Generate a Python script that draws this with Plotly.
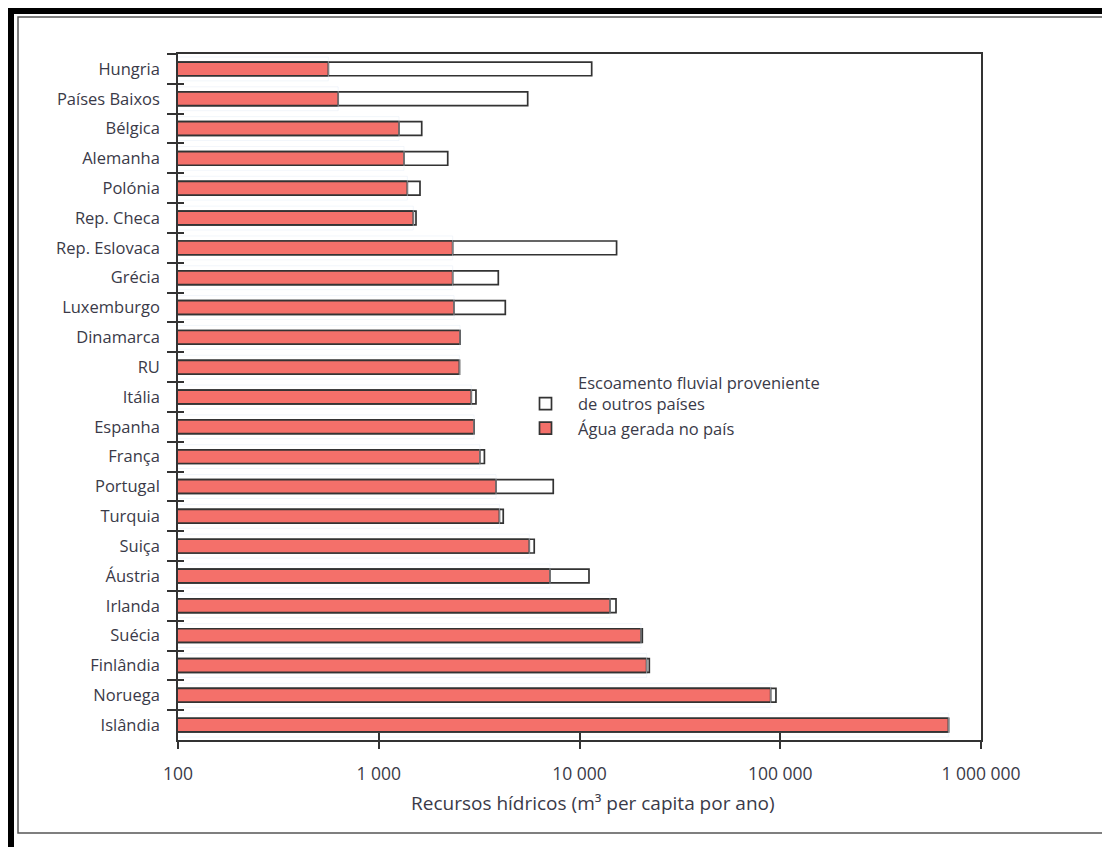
import plotly.graph_objects as go

# ---- data ----
paises = ["Hungria", "Países Baixos", "Bélgica", "Alemanha", "Polónia", "Rep. Checa",
          "Rep. Eslovaca", "Grécia", "Luxemburgo", "Dinamarca", "RU", "Itália",
          "Espanha", "França", "Portugal", "Turquia", "Suiça", "Áustria", "Irlanda",
          "Suécia", "Finlândia", "Noruega", "Islândia"]
# water generated in the country (red part), m3 per capita per year
agua_gerada = [561, 628, 1262, 1336, 1388, 1486,
               2335, 2335, 2370, 2540, 2520, 2890,
               2980, 3190, 3840, 3990, 5620, 7130, 14190,
               20250, 21600, 89600, 688000]
# total resources incl. river flow from other countries (end of white part)
recursos_totais = [11500, 5520, 1637, 2206, 1605, 1533,
                   15300, 3940, 4270, 2540, 2520, 3050,
                   2980, 3360, 7400, 4170, 5950, 11150, 15200,
                   20550, 22270, 95200, 688000]

tick_vals = [100, 1000, 10000, 100000, 1000000]
tick_text = ["100", "1 000", "10 000", "100 000", "1 000 000"]

nome_externo = "Escoamento fluvial proveniente<br>de outros países"
nome_interno = "Água gerada no país"
titulo_x = "Recursos hídricos (m³ per capita por ano)"

# ---- styling ----
RED = "#F4706A"
EDGE = "#333333"
TXT = "#3a3a48"
FONT = "Open Sans"

OFF = 8  # page body margin offset
W, H = 1110 - OFF, 847 - OFF
L, R, T, B = 178 - OFF, 981 - OFF, 54 - OFF, 740 - OFF


def px(xp):
    return (xp - OFF - L) / (R - L)


def py(yp):
    return (B - (yp - OFF)) / (B - T)


fig = go.Figure()
fig.add_trace(go.Bar(
    y=paises, x=recursos_totais, orientation="h", name=nome_externo,
    marker=dict(color="white", line=dict(color=EDGE, width=1.7)),
    width=0.46, hoverinfo="x+y"))
fig.add_trace(go.Bar(
    y=paises, x=agua_gerada, orientation="h", name=nome_interno,
    marker=dict(color=RED, line=dict(color=EDGE, width=1.7)),
    width=0.46, hoverinfo="x+y"))
# invisible trace to carry the overlay axes (for crossing ticks)
fig.add_trace(go.Bar(
    y=paises, x=agua_gerada, orientation="h", xaxis="x2", yaxis="y2",
    marker=dict(color="rgba(0,0,0,0)"), showlegend=False, hoverinfo="skip"))

axis_common = dict(showgrid=False, zeroline=False)

fig.update_layout(
    width=W, height=H,
    margin=dict(l=L, r=W - R, t=T, b=H - B),
    paper_bgcolor="white", plot_bgcolor="white",
    barmode="overlay",
    font=dict(family=FONT, color=TXT, size=16),
    xaxis=dict(type="log", range=[2, 6], tickvals=tick_vals, ticktext=tick_text,
               ticks="outside", ticklen=7, tickwidth=1.5, tickcolor=EDGE,
               showline=True, linecolor=EDGE, linewidth=1.6, mirror=True,
               tickfont=dict(size=17.5, family=FONT, color=TXT),
               ticklabelstandoff=10, **axis_common),
    xaxis2=dict(type="log", range=[2, 6], tickvals=tick_vals, overlaying="x",
                anchor="y2", side="bottom", ticks="inside", ticklen=7,
                tickwidth=1.5, tickcolor=EDGE, showticklabels=False,
                showline=False, **axis_common),
    yaxis=dict(type="category", categoryorder="array", categoryarray=paises,
               autorange="reversed", tickson="boundaries", ticks="outside",
               ticklen=9, tickwidth=1.5, tickcolor=EDGE,
               showline=True, linecolor=EDGE, linewidth=1.6, mirror=True,
               tickfont=dict(size=16.5, family=FONT, color=TXT),
               ticklabelstandoff=13, **axis_common),
    yaxis2=dict(type="category", categoryorder="array", categoryarray=paises,
                autorange="reversed", overlaying="y", anchor="x2", side="left",
                tickson="boundaries", ticks="inside", ticklen=6, tickwidth=1.5,
                tickcolor=EDGE, showticklabels=False, showline=False,
                **axis_common),
    legend=dict(x=px(513), y=py(365), xanchor="left", yanchor="top",
                bgcolor="rgba(0,0,0,0)", traceorder="normal", itemwidth=55,
                font=dict(size=16.5, family=FONT, color=TXT), valign="bottom"),
    showlegend=True,
)

fig.add_annotation(text=titulo_x, xref="paper", yref="paper",
                   x=px(593), y=py(803), xanchor="center", yanchor="middle",
                   showarrow=False, font=dict(size=19, family=FONT, color=TXT))

# outer frame decoration
shapes = [
    # thick black bands, left and top
    dict(type="rect", xref="paper", yref="paper", x0=px(5), x1=px(14),
         y0=py(847), y1=py(6), fillcolor="black", line=dict(width=0), layer="above"),
    dict(type="rect", xref="paper", yref="paper", x0=px(5), x1=px(1110),
         y0=py(14), y1=py(6), fillcolor="black", line=dict(width=0), layer="above"),
    # thin inner rectangle
    dict(type="rect", xref="paper", yref="paper", x0=px(18), x1=px(1104),
         y0=py(833), y1=py(17), line=dict(color="#555555", width=1.5),
         fillcolor="rgba(0,0,0,0)", layer="below"),
]
fig.update_layout(shapes=shapes)

fig.write_html("out.html")
